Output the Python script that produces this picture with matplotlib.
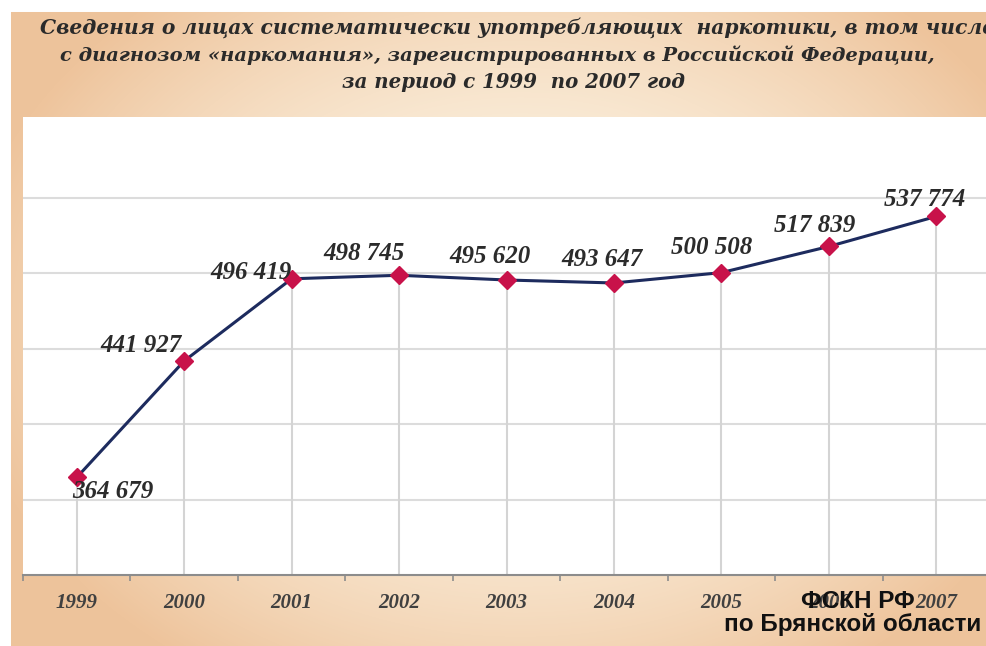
import numpy as np
import matplotlib
matplotlib.use('Agg')
import matplotlib.pyplot as plt

# --- данные ---
years = ['1999', '2000', '2001', '2002', '2003', '2004', '2005', '2006', '2007']
persons = [364679, 441927, 496419, 498745, 495620, 493647, 500508, 517839, 537774]
# смещения подписей значений (в пикселях) относительно точек
label_offsets = [(36, -14), (-43, 15), (-41, 6), (-35, 22), (-16, 23),
                 (-12, 23), (-10, 25), (-14, 21), (-12, 17)]

title_lines = [
    'Сведения о лицах систематически употребляющих  наркотики, в том числе',
    'с диагнозом «наркомания», зарегистрированных в Российской Федерации,',
    'за период с 1999  по 2007 год',
]
source_lines = ['ФСКН РФ', 'по Брянской области']

W, H = 987, 646
fig = plt.figure(figsize=(W / 100, H / 100), dpi=100)

# фон слайда: светлый центр, персиковые края
yy, xx = np.mgrid[0:H, 0:W]
t = ((xx - 520) / 560.0) ** 2 + ((yy - 320) / 420.0) ** 2
t = np.clip(t, 0, 1) ** 0.9
cream = np.array([253, 246, 231]) / 255
peach = np.array([238, 196, 156]) / 255
bg_img = cream[None, None, :] * (1 - t[..., None]) + peach[None, None, :] * t[..., None]
bg_img[:12, :, :] = 1.0
bg_img[:, :11, :] = 1.0

bg = fig.add_axes([0, 0, 1, 1])
bg.imshow(bg_img, extent=(0, W, H, 0), aspect='auto')
bg.set_xlim(0, W)
bg.set_ylim(H, 0)
bg.axis('off')

# --- график ---
ax = fig.add_axes([23 / W, (H - 575) / H, 967 / W, (575 - 117) / H])
x = np.arange(len(years))
ax.set_xlim(-0.5, 8.5)
ax.set_ylim(300000, 603700)
ax.set_facecolor('white')

for gy in range(350000, 600000, 50000):
    ax.axhline(gy, color='#dcdcdc', lw=1.5, zorder=1)
ax.vlines(x, 300000, persons, color='#d4d4d4', lw=1.5, zorder=1)

ax.plot(x, persons, color='#1d2b5e', lw=2.2, zorder=3)
ax.plot(x, persons, 'D', color='#c8124a', ms=9, zorder=4)

for xi, v, (dx, dy) in zip(x, persons, label_offsets):
    ax.annotate(f'{v:,}'.replace(',', ' '), (xi, v), xytext=(dx, dy),
                textcoords='offset pixels', ha='center', va='center',
                fontfamily='Liberation Serif', fontweight='bold',
                fontstyle='italic', fontsize=18, color='#2b2b2b', zorder=5)

for side in ['top', 'left', 'right']:
    ax.spines[side].set_visible(False)
ax.spines['bottom'].set_color('#8c8c8c')
ax.spines['bottom'].set_linewidth(1.5)

ax.set_yticks([])
ax.set_xticks(x)
ax.set_xticklabels(years, fontfamily='Liberation Serif', fontweight='bold',
                   fontstyle='italic', fontsize=15, color='#404040')
ax.tick_params(axis='x', which='major', length=0, pad=13)
ax.set_xticks(np.arange(-0.5, 9, 1), minor=True)
ax.tick_params(axis='x', which='minor', length=4, width=1.2, color='#8c8c8c')

# --- заголовок ---
title_x = [40, 60, 342]
title_y = [28, 55, 82]
title_size = [14.6, 14, 14.2]
for line, tx, ty, fs in zip(title_lines, title_x, title_y, title_size):
    fig.text(tx / W, 1 - ty / H, line, ha='left', va='center',
             fontfamily='DejaVu Serif', fontweight='bold', fontstyle='italic',
             fontsize=fs, color='#2a2a2a')

# --- источник ---
fig.text(858 / W, 1 - 602 / H, source_lines[0], ha='center', va='center',
         fontfamily='Liberation Sans', fontweight='bold', fontsize=17.5,
         color='#111111')
fig.text(853 / W, 1 - 625 / H, source_lines[1], ha='center', va='center',
         fontfamily='Liberation Sans', fontweight='bold', fontsize=17.5,
         color='#111111')

fig.savefig('out.png', dpi=100)
